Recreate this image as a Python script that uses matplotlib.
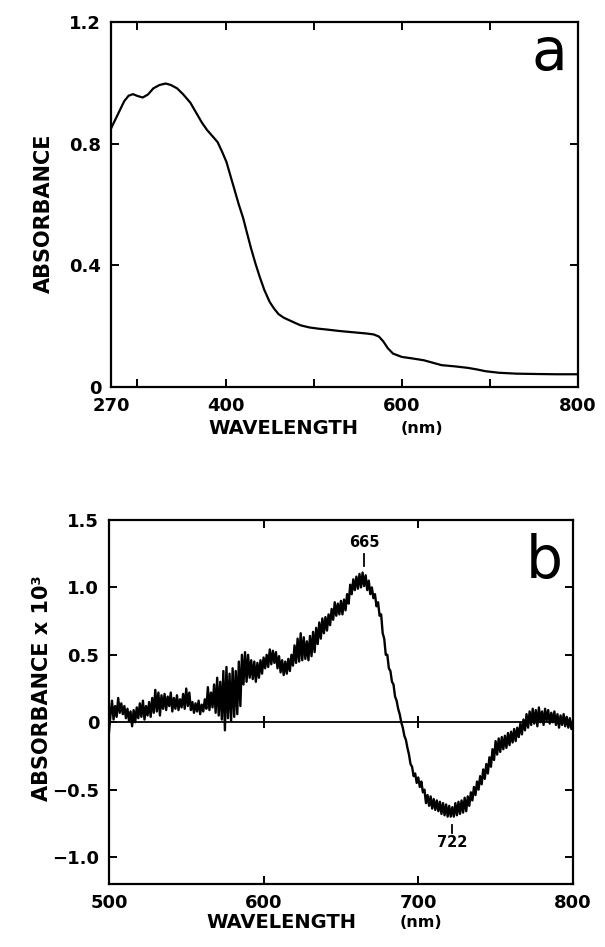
import matplotlib
matplotlib.use("Agg")
import matplotlib.pyplot as plt

# panel a : absorption spectrum
wl_a = [270, 275, 280, 285, 290, 295, 300, 306, 312, 318, 325, 332, 338, 345,
        352, 360, 367, 373, 379, 386, 391, 396, 401, 405, 410, 415, 420, 424,
        429, 434, 439, 444, 450, 455, 460, 466, 472, 478, 485, 495, 505, 515,
        530, 545, 560, 568, 574, 579, 584, 590, 600, 612, 625, 635, 645, 660,
        675, 685, 695, 710, 730, 750, 775, 800]
abs_a = [0.850, 0.880, 0.910, 0.940, 0.958, 0.963, 0.957, 0.952, 0.962, 0.982,
         0.993, 0.998, 0.993, 0.982, 0.962, 0.935, 0.900, 0.870, 0.845, 0.822,
         0.805, 0.774, 0.740, 0.700, 0.650, 0.600, 0.555, 0.510, 0.455, 0.405,
         0.360, 0.319, 0.280, 0.258, 0.240, 0.228, 0.220, 0.212, 0.203, 0.196,
         0.192, 0.189, 0.184, 0.180, 0.176, 0.173, 0.166, 0.150, 0.128, 0.110,
         0.099, 0.094, 0.088, 0.080, 0.072, 0.068, 0.063, 0.058, 0.052, 0.047,
         0.044, 0.043, 0.042, 0.042]
xticks_a = [270, 400, 600, 800]
xminor_a = [300, 500, 700]
yticks_a = [0, 0.4, 0.8, 1.2]
ylabels_a = ["0", "0.4", "0.8", "1.2"]

# panel b : difference spectrum (x 10^3), one reading per nm
wl_b = list(range(500, 801))
abs_b = [
    -0.08, 0.05, 0.16, 0.02, 0.12, 0.04, 0.18, 0.07, 0.14, 0.06,    # 500
    0.12, 0.03, 0.10, 0.01, 0.08, -0.03, 0.09, 0.00, 0.11, 0.03,    # 510
    0.14, 0.04, 0.16, 0.02, 0.12, 0.05, 0.15, 0.04, 0.18, 0.07,     # 520
    0.24, 0.08, 0.22, 0.05, 0.20, 0.10, 0.21, 0.09, 0.19, 0.12,     # 530
    0.22, 0.08, 0.18, 0.10, 0.20, 0.09, 0.17, 0.11, 0.21, 0.10,     # 540
    0.25, 0.12, 0.22, 0.09, 0.15, 0.07, 0.14, 0.08, 0.16, 0.06,     # 550
    0.13, 0.08, 0.17, 0.10, 0.26, 0.09, 0.22, 0.11, 0.28, 0.07,     # 560
    0.33, 0.05, 0.30, 0.02, 0.38, -0.06, 0.41, 0.03, 0.36, 0.01,    # 570
    0.40, 0.04, 0.38, 0.06, 0.45, 0.12, 0.50, 0.28, 0.52, 0.30,     # 580
    0.50, 0.33, 0.46, 0.32, 0.45, 0.30, 0.44, 0.33, 0.46, 0.36,     # 590
    0.48, 0.40, 0.50, 0.41, 0.54, 0.43, 0.53, 0.44, 0.52, 0.40,     # 600
    0.49, 0.37, 0.46, 0.35, 0.45, 0.36, 0.47, 0.38, 0.50, 0.42,     # 610
    0.57, 0.44, 0.62, 0.45, 0.66, 0.46, 0.63, 0.47, 0.60, 0.46,     # 620
    0.64, 0.49, 0.67, 0.52, 0.70, 0.58, 0.74, 0.62, 0.77, 0.66,     # 630
    0.78, 0.68, 0.80, 0.72, 0.84, 0.76, 0.89, 0.79, 0.88, 0.80,     # 640
    0.90, 0.80, 0.91, 0.83, 0.95, 0.88, 1.02, 0.95, 1.06, 0.98,     # 650
    1.08, 0.99, 1.10, 1.00, 1.11, 1.01, 1.09, 0.98, 1.05, 0.95,     # 660
    1.00, 0.92, 0.95, 0.86, 0.89, 0.79, 0.80, 0.66, 0.62, 0.50,     # 670
    0.50, 0.40, 0.38, 0.30, 0.28, 0.19, 0.16, 0.10, 0.06, 0.00,     # 680
    -0.04, -0.10, -0.13, -0.19, -0.24, -0.31, -0.33, -0.40, -0.38, -0.45,  # 690
    -0.41, -0.48, -0.44, -0.52, -0.50, -0.60, -0.54, -0.62, -0.55, -0.64,  # 700
    -0.57, -0.65, -0.58, -0.66, -0.59, -0.68, -0.60, -0.69, -0.61, -0.70,  # 710
    -0.62, -0.70, -0.63, -0.70, -0.60, -0.69, -0.59, -0.68, -0.58, -0.67,  # 720
    -0.56, -0.66, -0.55, -0.62, -0.52, -0.58, -0.48, -0.54, -0.44, -0.50,  # 730
    -0.40, -0.46, -0.35, -0.42, -0.31, -0.38, -0.26, -0.33, -0.20, -0.28,  # 740
    -0.14, -0.24, -0.12, -0.22, -0.11, -0.20, -0.10, -0.19, -0.08, -0.17,  # 750
    -0.07, -0.15, -0.05, -0.14, -0.04, -0.11, -0.01, -0.09, 0.02, -0.06,   # 760
    0.06, -0.04, 0.08, -0.02, 0.10, -0.01, 0.09, -0.03, 0.11, 0.00,        # 770
    0.08, -0.02, 0.10, 0.01, 0.09, -0.01, 0.07, 0.00, 0.08, -0.02,         # 780
    0.06, -0.04, 0.05, -0.02, 0.06, -0.03, 0.04, -0.04, 0.03, -0.05,       # 790
    0.01]                                                                  # 800
xticks_b = [500, 600, 700, 800]
yticks_b = [-1.0, -0.5, 0, 0.5, 1.0, 1.5]
ylabels_b = ["\u22121.0", "\u22120.5", "0", "0.5", "1.0", "1.5"]
peaks_b = [665, 722]

plt.rcParams["font.family"] = ["DejaVu Sans"]
fig = plt.figure(figsize=(6.05, 9.47), dpi=100)

tick_kw = dict(which="both", direction="in", top=True, right=True,
               length=6, width=1.4, labelsize=13, pad=7)
letter_font = ["Liberation Sans Narrow", "DejaVu Sans"]

# ---- panel a
ax1 = fig.add_axes([0.1835, 0.5913, 0.772, 0.3854])
ax1.plot(wl_a, abs_a, color="black", lw=1.6)
ax1.set_xlim(270, 800)
ax1.set_ylim(0, 1.2)
ax1.set_xticks(xticks_a)
ax1.set_xticklabels([str(t) for t in xticks_a])
ax1.set_xticks(xminor_a, minor=True)
ax1.set_yticks(yticks_a)
ax1.set_yticklabels(ylabels_a)
ax1.tick_params(**tick_kw)
ax1.text(0.938, 0.868, "a", transform=ax1.transAxes, ha="center",
         va="baseline", fontsize=42, family=letter_font)

# ---- panel b
ax2 = fig.add_axes([0.180, 0.0665, 0.767, 0.3844])
ax2.plot(wl_b, abs_b, color="black", lw=1.7)
ax2.axhline(0, color="black", lw=1.3)
ax2.plot([600, 700], [0, 0], ls="none", marker="|", ms=9, mew=1.4, color="black")
ax2.set_xlim(500, 800)
ax2.set_ylim(-1.2, 1.5)
ax2.set_xticks(xticks_b)
ax2.set_xticklabels([str(t) for t in xticks_b])
ax2.set_yticks(yticks_b)
ax2.set_yticklabels(ylabels_b)
ax2.tick_params(**tick_kw)
ax2.text(0.9375, 0.841, "b", transform=ax2.transAxes, ha="center",
         va="baseline", fontsize=42, family=letter_font)

# peak markers
ax2.plot([peaks_b[0], peaks_b[0]], [1.16, 1.25], color="black", lw=1.3)
ax2.text(peaks_b[0], 1.28, str(peaks_b[0]), ha="center", va="bottom",
         fontsize=10.5, fontweight="bold")
ax2.plot([peaks_b[1], peaks_b[1]], [-0.76, -0.82], color="black", lw=1.3)
ax2.text(peaks_b[1], -0.84, str(peaks_b[1]), ha="center", va="top",
         fontsize=10.5, fontweight="bold")

for ax in (ax1, ax2):
    for s in ax.spines.values():
        s.set_linewidth(1.6)
    for lab in ax.get_xticklabels() + ax.get_yticklabels():
        lab.set_fontweight("bold")

# axis titles
fig.text(44 / 605, 1 - 213 / 947, "ABSORBANCE", rotation=90, ha="center",
         va="center", fontsize=15, fontweight="bold")
fig.text(283 / 605, 1 - 428 / 947, "WAVELENGTH", ha="center", va="center",
         fontsize=14, fontweight="bold")
fig.text(422 / 605, 1 - 428 / 947, "(nm)", ha="center", va="center",
         fontsize=11.5, fontweight="bold")

fig.text(42 / 605, 1 - 688 / 947, "ABSORBANCE x 10\u00b3", rotation=90,
         ha="center", va="center", fontsize=15, fontweight="bold")
fig.text(281 / 605, 1 - 922 / 947, "WAVELENGTH", ha="center", va="center",
         fontsize=14, fontweight="bold")
fig.text(421 / 605, 1 - 922 / 947, "(nm)", ha="center", va="center",
         fontsize=11.5, fontweight="bold")

fig.savefig("out.png", dpi=100)
